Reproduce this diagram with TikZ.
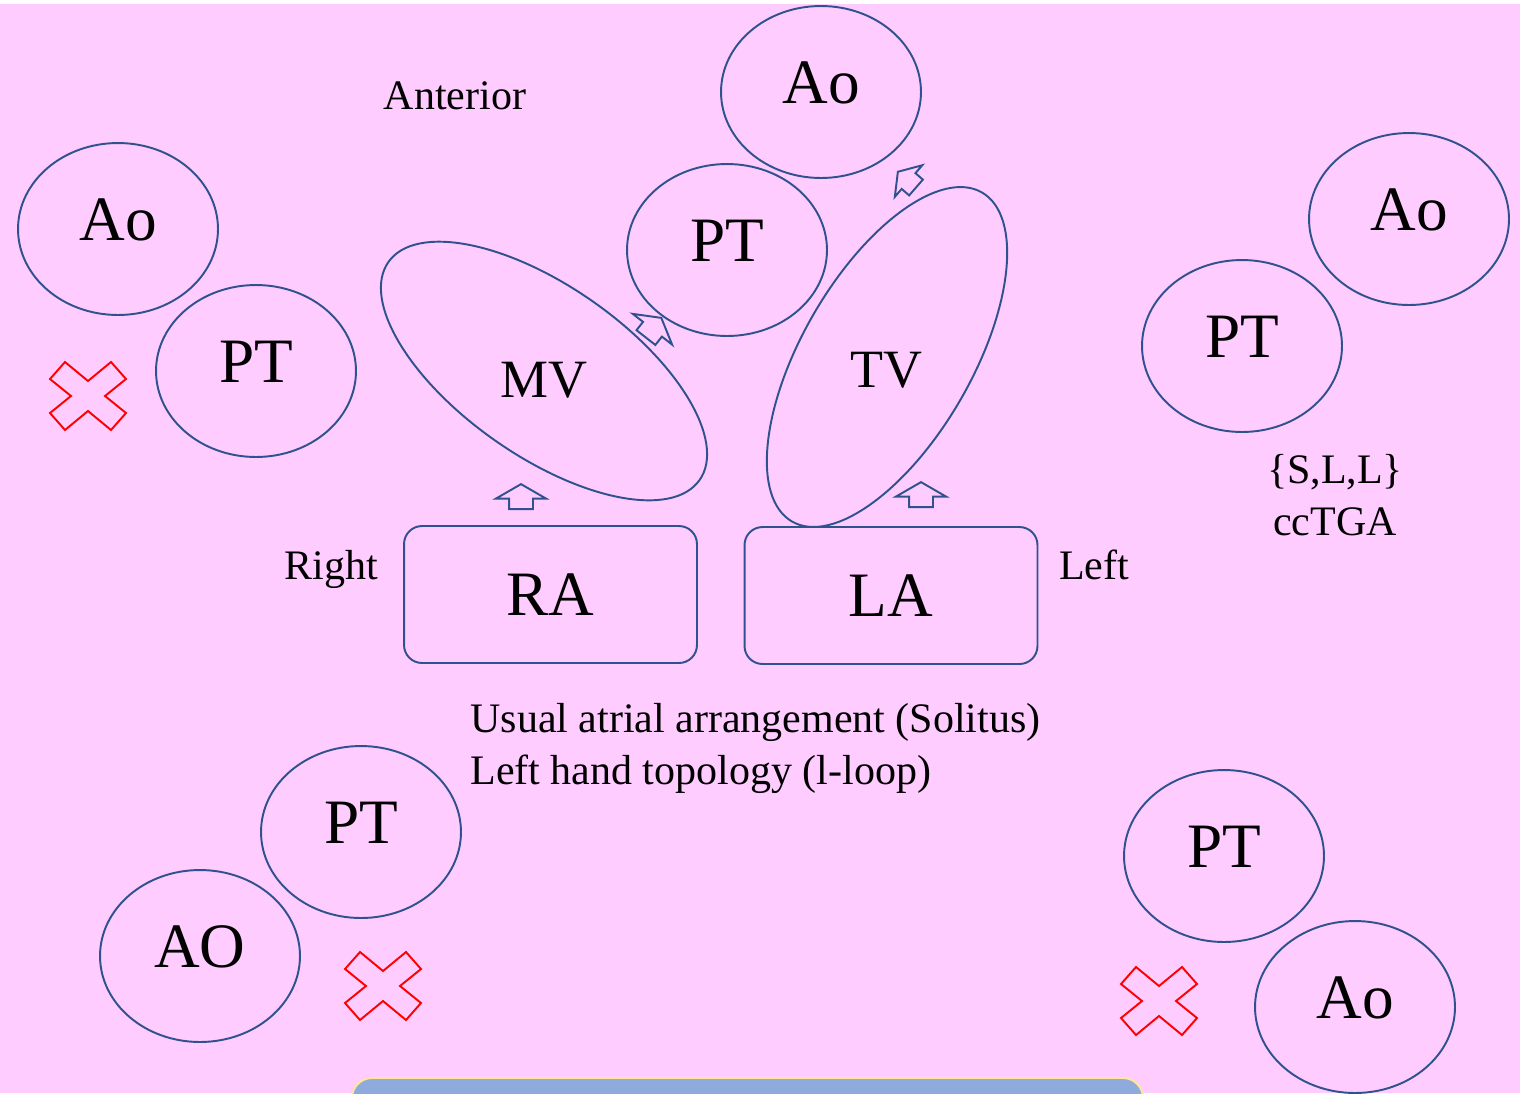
\documentclass[tikz,border=0pt]{standalone}
\usepackage{fontspec}
\setmainfont{Liberation Serif}
\usepackage{tikz}
\usetikzlibrary{positioning,shapes.geometric,shapes.arrows}
\definecolor{blush}   {HTML}{FFCCFF}
\definecolor{outline} {HTML}{2F528F}
\definecolor{alarm}   {HTML}{FF0000}
\definecolor{barfill} {HTML}{8FAADC}
\definecolor{barrim}  {HTML}{FFE699}
\tikzset{
  % --- nodes
  vessel/.style = {ellipse, draw=outline, line width=1.1pt, minimum width=4cm,
                   minimum height=3.44cm, inner sep=0pt, text depth=0.36cm,
                   font=\fontsize{36}{43}\selectfont},
  valve/.style  = {ellipse, draw=outline, line width=1.1pt, minimum width=7.6cm,
                   minimum height=3.4cm, inner sep=0pt},
  atrium/.style = {rectangle, rounded corners=0.36cm, draw=outline, line width=1.1pt,
                   minimum width=5.86cm, minimum height=2.74cm,
                   font=\fontsize{36}{43}\selectfont},
  vlbl/.style   = {font=\fontsize{30.7}{37}\selectfont},
  lbl/.style    = {font=\fontsize{23.9}{29.6}\selectfont},
  % --- flow arrows
  flow/.style   = {single arrow, draw=outline, line width=1.1pt, inner xsep=0pt,
                   inner ysep=0.22cm, minimum height=0.5cm, minimum width=0.96cm,
                   single arrow head extend=0.26cm, single arrow tip angle=120},
  flowsm/.style = {flow, inner ysep=0.19cm, minimum height=0.48cm, minimum width=0.8cm,
                   single arrow head extend=0.21cm, single arrow tip angle=112},
  % --- red cross
  nope/.pic     = {\draw[alarm, line width=1.1pt, line join=miter]
                   (-23,-34) -- (0,-15) -- (23,-34) -- (38,-17) -- (17,0) -- (38,17)
                   -- (23,34) -- (0,15) -- (-23,34) -- (-38,17) -- (-17,0) -- (-38,-17)
                   -- cycle;},
}
\begin{document}
\begin{tikzpicture}[x=0.02cm, y=-0.02cm,
  bar/.style={fill=barfill, draw=barrim, line width=1.1pt, rounded corners=0.4cm},
]
  \useasboundingbox (0,0) rectangle (1520,1093);
  \fill[white] (0,0) rectangle (1520,1093);
  \fill[blush] (0,4) rectangle (1520,1093);
  \draw[bar] (352,1078) rectangle (1143,1140);
  % --- valves and atria
  \node[valve, rotate=-35] (mv) at (544,371) {};
  \node[valve, rotate=60]  (tv) at (887,357) {};
  \node[vlbl] (mvlbl) at (544,380) {MV};
  \node[vlbl] (tvlbl) at (886,370) {TV};
  \node[atrium] (ra) at (550.5,594.5) {RA};
  \node[atrium] (la) at (891,595.5) {LA};
  % --- great arteries
  \node[vessel] (aotop) at (821,92)   {Ao};
  \node[vessel] (pttop) at (727,250)  {PT};
  \node[vessel] (aol)   at (118,229)  {Ao};
  \node[vessel] (ptl)   at (256,371)  {PT};
  \node[vessel] (aor)   at (1409,219) {Ao};
  \node[vessel] (ptr)   at (1242,346) {PT};
  \node[vessel] (ptbl)  at (361,832)  {PT};
  \node[vessel] (aobl)  at (200,956)  {AO};
  \node[vessel] (ptbr)  at (1224,856) {PT};
  \node[vessel] (aobr)  at (1355,1007) {Ao};
  % --- flow
  \node[flow, rotate=90, anchor=tip]    (raup)  at (521,483) {};
  \node[flow, rotate=90, anchor=tip]    (laup)  at (921,481) {};
  \node[flow, rotate=52, anchor=tip]    (mvpt)  at (662,317) {};
  \node[flowsm, rotate=139, anchor=tip] (tvao)  at (897,171) {};
  % --- wrong arrangements
  \pic at (88,396)   {nope};
  \pic at (383,986)  {nope};
  \pic at (1159,1001) {nope};
  % --- labels
  \node[lbl, anchor=base] (ant) at (455,109) {Anterior};
  \node[lbl, anchor=base] (rgt) at (331,579) {Right};
  \node[lbl, anchor=base] (lft) at (1094,579) {Left};
  \node[lbl, align=center] (cctga) at (1335,495) {\{S,L,L\}\\ccTGA};
  \node[lbl, align=left, anchor=west, inner sep=0pt] (arr) at (470,748)
    {Usual atrial arrangement (Solitus)\\Left hand topology (l-loop)};
\end{tikzpicture}
\end{document}
